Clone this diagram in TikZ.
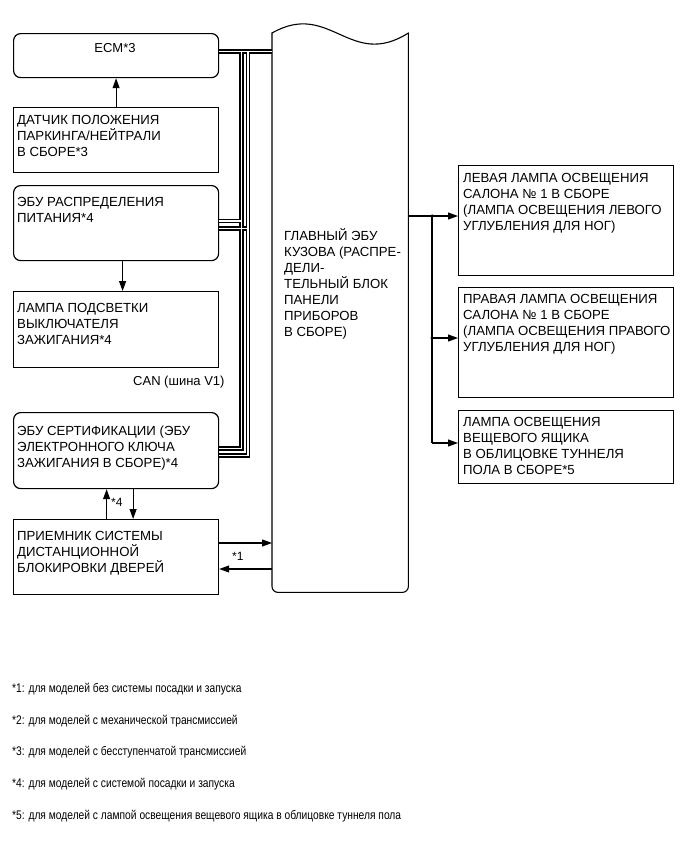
\documentclass[tikz,border=0pt]{standalone}
\usepackage{fontspec}
\setmainfont{Liberation Sans}
\newfontfamily\notefont{Liberation Sans}[FakeStretch=0.82]
\usetikzlibrary{arrows.meta,calc}
\begin{document}
\begin{tikzpicture}[x=1pt,y=-1pt,
  box/.style={draw=black, line width=1.2pt, anchor=north west, inner sep=0pt, minimum width=205pt},
  rbox/.style={box, rounded corners=7pt},
  lbox/.style={draw=black, line width=1.2pt, anchor=north west, inner sep=0pt, minimum width=215pt},
  txt/.style={anchor=base west, inner sep=0pt, font=\fontsize{13.2}{16}\selectfont, align=left},
  lbl/.style={anchor=base west, inner sep=0pt, font=\fontsize{12}{14}\selectfont},
  arr/.style={line width=1.1pt, -{Triangle[length=10pt,width=7pt]}},
  ln/.style={line width=1.1pt},
  note/.style={anchor=base west, inner sep=0pt, font=\notefont\fontsize{12.5}{15}\selectfont},
  bus/.style={double=white, double distance=1.5pt, line width=1.4pt, line join=miter},
  dot/.style={circle, fill=black, inner sep=0pt, minimum size=3.5pt}
]
\useasboundingbox[fill=white] (0,0) rectangle (690,854);

% left boxes
\node[rbox, minimum height=44pt] (ecm) at (13,33) {};
\node[box, minimum height=65pt] (sensor) at (13,107) {};
\node[rbox, minimum height=75pt] (pdu) at (13,185) {};
\node[box, minimum height=76pt] (lamp) at (13,291) {};
\node[rbox, minimum height=76pt] (cert) at (13,412) {};
\node[box, minimum height=75pt] (recv) at (13,519) {};

% body ECU
\node[inner sep=0pt, minimum width=136pt, minimum height=559pt, anchor=north west] (body) at (272,33) {};
\draw[ln, line cap=round] (body.north west) .. controls (330,0) and (350,70) .. (body.north east);
\draw[ln, line cap=round, rounded corners=6pt] (body.north west) -- (body.south west) -- (body.south east) -- (body.north east);

% right boxes
\node[lbox, minimum height=110pt] (l1) at (458,165) {};
\node[lbox, minimum height=110pt] (l2) at (458,287) {};
\node[lbox, minimum height=73pt] (l3) at (458,410) {};

% texts (base = baseline of the last line)
\node[anchor=base, inner sep=0pt, font=\fontsize{13}{15}\selectfont] (tecm) at (115,52) {ECM*3};
\node[txt] (tsensor) at (17,156) {ДАТЧИК ПОЛОЖЕНИЯ\\ПАРКИНГА/НЕЙТРАЛИ\\В СБОРЕ*3};
\node[txt] (tpdu) at (17,222) {ЭБУ РАСПРЕДЕЛЕНИЯ\\ПИТАНИЯ*4};
\node[txt] (tlamp) at (17,344) {ЛАМПА ПОДСВЕТКИ\\ВЫКЛЮЧАТЕЛЯ\\ЗАЖИГАНИЯ*4};
\node[anchor=base west, inner sep=0pt, font=\fontsize{13}{15}\selectfont] (tcan) at (133,385) {CAN (шина V1)};
\node[txt] (tcert) at (17,467) {ЭБУ СЕРТИФИКАЦИИ (ЭБУ\\ЭЛЕКТРОННОГО КЛЮЧА\\ЗАЖИГАНИЯ В СБОРЕ)*4};
\node[txt] (trecv) at (17,572) {ПРИЕМНИК СИСТЕМЫ\\ДИСТАНЦИОННОЙ\\БЛОКИРОВКИ ДВЕРЕЙ};
\node[txt] (tbody) at (284,336.5) {ГЛАВНЫЙ ЭБУ\\КУЗОВА (РАСПРЕ-\\ДЕЛИ-\\ТЕЛЬНЫЙ БЛОК\\ПАНЕЛИ\\ПРИБОРОВ\\В СБОРЕ)};
\node[txt] (tl1) at (463,230) {ЛЕВАЯ ЛАМПА ОСВЕЩЕНИЯ\\САЛОНА № 1 В СБОРЕ\\(ЛАМПА ОСВЕЩЕНИЯ ЛЕВОГО\\УГЛУБЛЕНИЯ ДЛЯ НОГ)};
\node[txt] (tl2) at (463,351) {ПРАВАЯ ЛАМПА ОСВЕЩЕНИЯ\\САЛОНА № 1 В СБОРЕ\\(ЛАМПА ОСВЕЩЕНИЯ ПРАВОГО\\УГЛУБЛЕНИЯ ДЛЯ НОГ)};
\node[txt] (tl3) at (463,474) {ЛАМПА ОСВЕЩЕНИЯ\\ВЕЩЕВОГО ЯЩИКА\\В ОБЛИЦОВКЕ ТУННЕЛЯ\\ПОЛА В СБОРЕ*5};
\node[lbl] (s4) at (111,506) {*4};
\node[lbl] (s1) at (232,560) {*1};

% footnotes
\node[note] (n1) at (12,692) {*1: для моделей без системы посадки и запуска};
\node[note] (n2) at (12,724) {*2: для моделей с механической трансмиссией};
\node[note] (n3) at (12,755) {*3: для моделей с бесступенчатой трансмиссией};
\node[note] (n4) at (12,787) {*4: для моделей с системой посадки и запуска};
\node[note] (n5) at (12,819) {*5: для моделей с лампой освещения вещевого ящика в облицовке туннеля пола};

% CAN bus
\coordinate (bA) at (241.5,0);
\coordinate (bB) at (248,0);
\coordinate (h0) at (0,51.5);
\coordinate (h1) at (0,221);
\coordinate (h2) at (0,228.5);
\coordinate (h3) at (0,448.5);
\coordinate (h4) at (0,455.5);
\draw[bus] (ecm.east |- h0) -- (body.west |- h0)
  (bA |- h0) -- (bA |- h3) -- (cert.east |- h3)
  (bB |- h0) -- (bB |- h4) -- (cert.east |- h4)
  (pdu.east |- h1) -- (bA |- h1)
  (pdu.east |- h2) -- (bB |- h2);

% left arrows
\draw[arr] (sensor.north) -- (ecm.south);
\draw[arr] ($(pdu.south)+(6.5,0)$) -- ($(lamp.north)+(6.5,0)$);
\draw[arr] ($(recv.north)+(-9.5,0)$) -- ($(cert.south)+(-9.5,0)$);
\draw[arr] ($(cert.south)+(17,0)$) -- ($(recv.north)+(17,0)$);
\coordinate (r1) at (0,543);
\coordinate (r2) at (0,569);
\draw[arr] (recv.east |- r1) -- (body.west |- r1);
\draw[arr] (body.west |- r2) -- (recv.east |- r2);

% right connectors
\coordinate (j1) at (432,216);
\coordinate (j2) at (432,338);
\coordinate (j3) at (432,443);
\draw[ln] (body.east |- j1) -- (j1);
\draw[arr] (j1) -- (l1.west |- j1);
\draw[ln] (j1) -- (j3);
\draw[arr] (j2) -- (l2.west |- j2);
\draw[arr] (j3) -- (l3.west |- j3);
\node[dot] (d1) at (j1) {};
\node[dot] (d2) at (j2) {};
\end{tikzpicture}
\end{document}
